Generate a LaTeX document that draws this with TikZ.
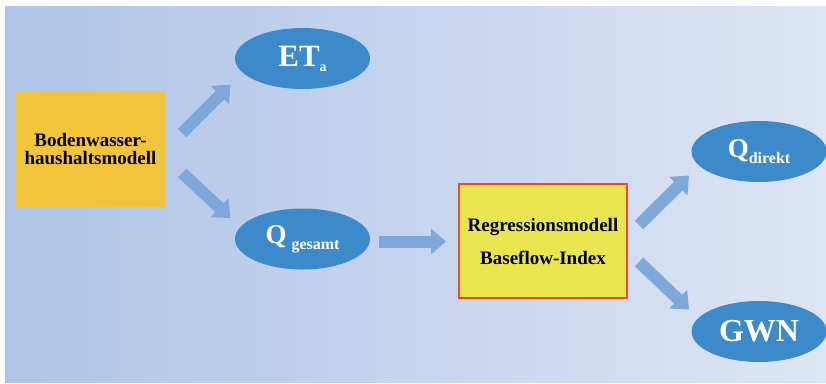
\documentclass[tikz,border=0pt]{standalone}
\usepackage{fontspec}
\setmainfont{Liberation Serif}
\usetikzlibrary{shapes.geometric,arrows.meta,calc}
\definecolor{bgL}{HTML}{AFC4E7}
\definecolor{bgR}{HTML}{DEE5F4}
\definecolor{ellc}{HTML}{3C8AC9}
\definecolor{yel}{HTML}{F1C43B}
\definecolor{lime}{HTML}{E8E54E}
\definecolor{redb}{HTML}{EE4B2B}
\definecolor{arrc}{HTML}{7EA7DA}
\newcommand{\fs}[1]{\fontsize{#1}{#1}\selectfont}
\begin{document}
\begin{tikzpicture}[x=1pt,y=-1pt,
  oval/.style={ellipse,fill=ellc,minimum width=135pt,minimum height=61pt,inner sep=0pt,text=white,font=\bfseries},
  arr/.style={draw=arrc,line width=12pt,-{Triangle[width=25pt,length=15pt]}},
  txt/.style={font=\fs{19}\bfseries,align=center}]
\useasboundingbox (0,0) rectangle (826,383);
\fill[white] (0,0) rectangle (826,383);
\shade[left color=bgL,right color=bgR] (5,6) rectangle (826,382);
\node[fill=yel,minimum width=149pt,minimum height=116pt,inner sep=0pt,txt,text=black] (bw) at (90.5,149) {Bodenwasser-\\[-1pt]haushaltsmodell};
\node[oval] (eta) at (302.5,58.5) {\fs{31}ET\raisebox{-5pt}{\fs{14}a}};
\node[oval] (qg) at (302.5,239) {\fs{27}Q\hspace{5pt}\raisebox{-6pt}{\fs{16}gesamt}};
\node[fill=lime,draw=redb,line width=2pt,minimum width=168pt,minimum height=114pt,inner sep=0pt,txt,text=black] (rm) at (543,241) {Regressionsmodell\\[14pt]Baseflow-Index};
\node[oval] (qd) at (759,151.5) {\fs{27}Q\raisebox{-6pt}{\fs{16}direkt}};
\node[oval] (gwn) at (759,331.5) {\fs{32}GWN};
\draw[arr] ($(bw.east)+(17,-16)$) -- ($(eta.center)+(-72,26)$);
\draw[arr] ($(bw.east)+(17,24)$) -- ($(qg.center)+(-72,-21)$);
\draw[arr] ($(qg.east)+(9,2.5)$) -- ($(rm.west)+(-12,0.5)$);
\draw[arr] ($(rm.east)+(11,-16)$) -- ($(qd.center)+(-70,24)$);
\draw[arr] ($(rm.east)+(11,21)$) -- ($(gwn.center)+(-70,-22)$);
\end{tikzpicture}
\end{document}
